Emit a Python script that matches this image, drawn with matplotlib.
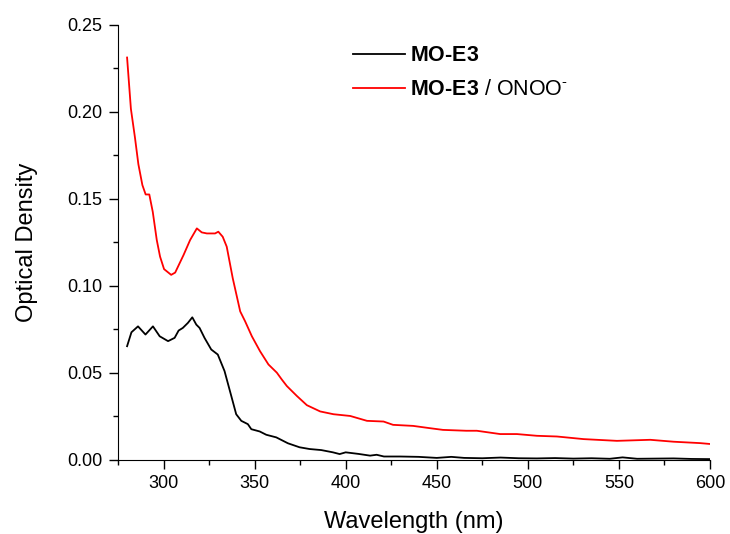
import matplotlib
matplotlib.use('Agg')
import matplotlib.pyplot as plt
from matplotlib.ticker import MultipleLocator, FormatStrFormatter

plt.rcParams['font.family'] = ['Liberation Sans', 'DejaVu Sans']
plt.rcParams['mathtext.fontset'] = 'custom'
plt.rcParams['mathtext.rm'] = 'Liberation Sans'
plt.rcParams['mathtext.bf'] = 'Liberation Sans:bold'

# black: MO-E3
wl_black = [280, 282.4, 286, 290.1, 294.2, 297.9, 302.5, 306.1, 308.3, 310.6, 313.4,
            315.8, 318, 319.8, 322.5, 326.2, 329.8, 333.5, 337.2, 339.9, 342.7, 346.3,
            348.2, 352.8, 356.4, 361.9, 368.3, 374.7, 380.2, 386.6, 393, 396.7, 400,
            407, 413.4, 417, 421, 430, 440, 450, 458, 465, 475, 485, 495, 505, 515,
            525, 535, 545, 552, 560, 570, 580, 590, 600]
od_black = [0.0654, 0.0734, 0.0768, 0.0721, 0.0768, 0.0711, 0.0683, 0.0702, 0.0744, 0.0759, 0.0788,
            0.082, 0.0778, 0.0759, 0.0702, 0.0635, 0.0606, 0.0511, 0.0368, 0.0263, 0.0225, 0.0206,
            0.0177, 0.0164, 0.0145, 0.013, 0.0096, 0.0073, 0.0063, 0.0057, 0.0044, 0.0034, 0.0044,
            0.0035, 0.0025, 0.003, 0.002, 0.002, 0.0018, 0.0012, 0.0018, 0.0012, 0.0010, 0.0014, 0.0010,
            0.0009, 0.0011, 0.0008, 0.0010, 0.0007, 0.0015, 0.0007, 0.0008, 0.0009, 0.0006, 0.0005]

# red: MO-E3 / ONOO-
wl_red = [280, 282.1, 284.3, 286.2, 288.4, 290.2, 292.2, 294.1, 296.3, 298.1, 300.3,
          304.2, 306.4, 311, 314.6, 318.3, 321, 323.8, 328.3, 330.1, 332.5, 334.7,
          338, 342.1, 344.8, 348.5, 353, 357.6, 362.2, 364.9, 367.7, 373.2, 378.7,
          386, 393.3, 402.5, 411.7, 420.8, 426, 437, 446.1, 453.4, 466.2, 472,
          484.8, 494, 505, 516, 530.6, 548.9, 567.2, 580, 594.6, 600]
od_red = [0.2313, 0.2018, 0.1855, 0.170, 0.158, 0.1526, 0.1526, 0.1426, 0.1264, 0.1169, 0.1097,
          0.1064, 0.1077, 0.1178, 0.1264, 0.1331, 0.1308, 0.1302, 0.1302, 0.1312, 0.1283, 0.1226,
          0.1045, 0.0854, 0.0797, 0.0711, 0.0625, 0.0549, 0.0502, 0.0463, 0.0425, 0.0368, 0.0315,
          0.0279, 0.0263, 0.0253, 0.0225, 0.0221, 0.0202, 0.0196, 0.0183, 0.0173, 0.0168, 0.0168,
          0.0149, 0.0149, 0.0139, 0.0135, 0.012, 0.011, 0.0116, 0.0105, 0.0097, 0.0092]

hyph = '\u2010'
lbl_black = r'$\mathbf{MO' + hyph + r'E3}$'
lbl_red = lbl_black + ' / ONOO$^{' + hyph + '}$'

fig = plt.figure(figsize=(7.3, 5.34), dpi=100)
ax = fig.add_axes([0.1616, 0.1386, 0.811, 0.8146])

ax.plot(wl_black, od_black, color='black', linewidth=1.3, label=lbl_black)
ax.plot(wl_red, od_red, color='#ff0000', linewidth=1.3, label=lbl_red)

ax.set_xlim(275, 600)
ax.set_ylim(0, 0.25)
ax.xaxis.set_major_locator(MultipleLocator(50))
ax.xaxis.set_minor_locator(MultipleLocator(25))
ax.yaxis.set_major_locator(MultipleLocator(0.05))
ax.yaxis.set_minor_locator(MultipleLocator(0.025))
ax.yaxis.set_major_formatter(FormatStrFormatter('%.2f'))

for s in ['top', 'right']:
    ax.spines[s].set_visible(False)
ax.tick_params(which='major', direction='out', length=6.5, width=1, labelsize=13, pad=4.5)
ax.tick_params(which='minor', direction='out', length=3.6, width=1)

ax.set_xlabel('Wavelength (nm)', fontsize=17)
ax.set_ylabel('Optical Density', fontsize=17)
ax.xaxis.set_label_coords(0.5, -0.117)
ax.yaxis.set_label_coords(-0.135, 0.5)

ax.legend(loc='upper left', bbox_to_anchor=(0.364, 0.998), frameon=False, fontsize=15.5,
          handlelength=2.4, handletextpad=0.25, labelspacing=0.6)

fig.savefig('out.png', dpi=100)
